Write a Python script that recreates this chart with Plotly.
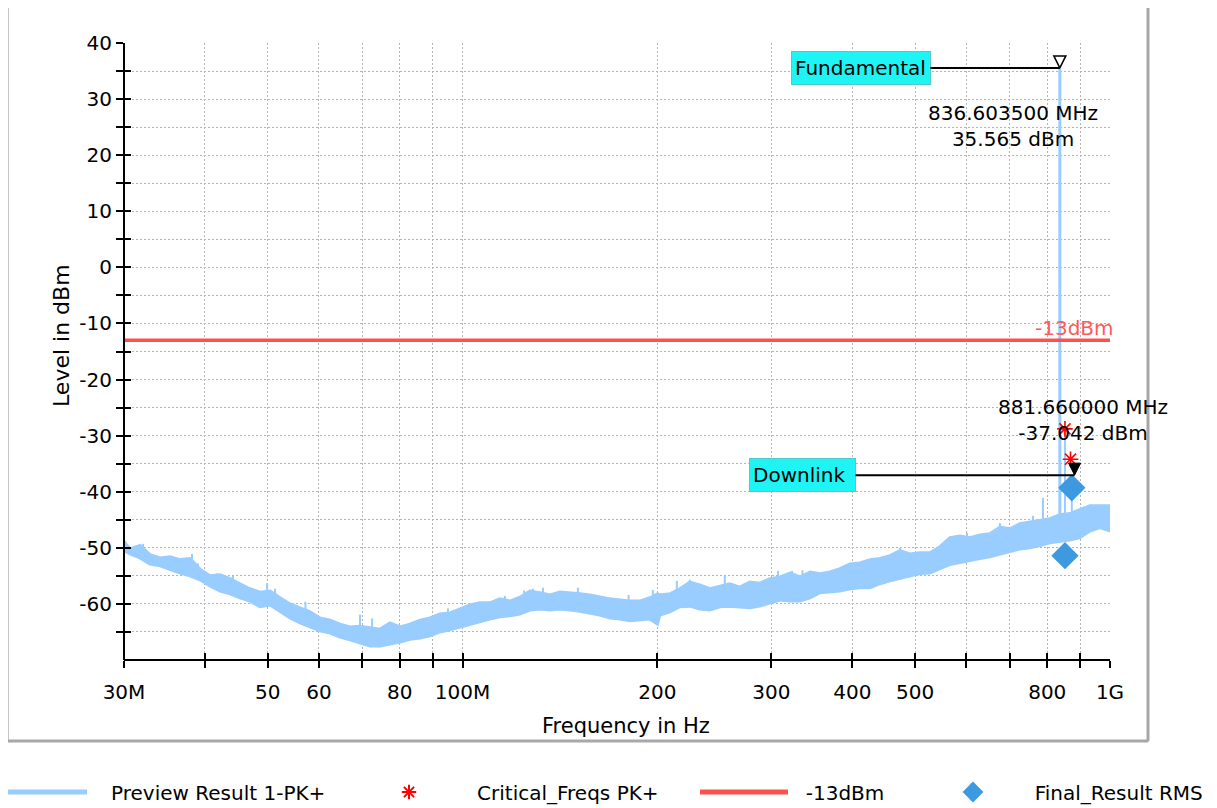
import math
import plotly.graph_objects as go

# ---------------- data ----------------
band_freq_mhz = [
    30.0, 30.65, 31.76, 32.90, 34.10, 35.33, 36.61, 37.94, 39.31, 40.73,
    42.21, 43.74, 45.32, 46.96, 48.66, 50.44, 52.26, 54.15, 56.11, 58.14,
    60.24, 62.42, 64.68, 67.02, 69.45, 71.96, 74.57, 77.26, 80.06, 82.96,
    85.96, 89.07, 92.29, 95.63, 99.09, 102.67, 106.39, 110.24, 114.23, 118.36,
    122.64, 127.08, 131.68, 136.44, 141.38, 146.49, 151.79, 157.28, 162.98, 168.87,
    174.98, 181.31, 187.88, 194.67, 200.0, 201.72, 209.02, 216.58, 224.42, 232.54,
    240.95, 249.67, 258.70, 268.07, 277.77, 287.82, 298.5, 309.3, 320.5, 332.1,
    344.1, 356.6, 369.5, 382.8, 396.7, 411.1, 425.9, 441.3, 457.3, 473.9,
    491.0, 508.8, 527.2, 546.2, 566.0, 586.5, 607.7, 629.7, 652.5, 676.1,
    700.6, 725.9, 752.2, 779.4, 807.6, 836.8, 867.1, 898.5, 931.0, 964.7, 1000.0,
]
band_upper_dbm = [
    -48.9, -50.2, -49.6, -51.2, -51.8, -51.6, -52.1, -51.9, -53.8, -55.0,
    -54.8, -55.5, -56.4, -57.3, -57.9, -57.7, -58.9, -60.0, -60.7, -61.4,
    -62.5, -62.9, -63.6, -64.1, -64.0, -64.3, -64.5, -63.4, -64.1, -63.6,
    -62.9, -62.5, -61.8, -61.6, -60.9, -60.2, -59.8, -59.8, -59.1, -59.5,
    -58.8, -57.7, -58.0, -58.4, -57.9, -58.0, -58.2, -58.4, -58.8, -59.1,
    -59.3, -59.5, -59.5, -58.9, -58.2, -58.4, -58.2, -57.3, -56.1, -56.6,
    -57.3, -56.8, -56.4, -57.0, -56.1, -56.3, -55.5, -55.2, -54.5, -55.2,
    -54.3, -54.6, -54.3, -53.7, -52.9, -52.7, -52.1, -51.9, -51.4, -50.5,
    -51.1, -50.9, -50.9, -49.8, -48.2, -47.9, -48.2, -47.7, -47.5, -46.3,
    -46.6, -45.7, -45.4, -45.2, -44.8, -44.1, -43.9, -43.2, -42.5, -42.5, -42.5,
]
band_lower_dbm = [
    -50.5, -51.1, -51.8, -52.9, -53.2, -53.9, -54.5, -55.0, -55.7, -56.8,
    -57.7, -58.2, -58.9, -59.5, -60.5, -60.2, -61.4, -62.5, -63.4, -64.1,
    -64.8, -65.2, -65.9, -66.4, -66.9, -67.5, -67.5, -67.1, -66.8, -66.3,
    -66.1, -65.7, -65.0, -64.6, -64.1, -63.6, -63.2, -62.7, -62.3, -62.1,
    -61.8, -61.1, -60.9, -61.1, -60.9, -61.1, -61.3, -61.6, -62.0, -62.5,
    -62.7, -63.0, -62.9, -62.7, -63.6, -62.0, -61.4, -60.5, -60.4, -60.9,
    -61.1, -60.5, -60.4, -60.5, -60.7, -60.4, -59.8, -59.3, -59.5, -59.5,
    -58.9, -58.0, -57.9, -57.7, -57.3, -57.1, -57.1, -56.4, -55.9, -55.5,
    -55.0, -54.6, -54.5, -53.7, -53.0, -52.7, -52.3, -51.9, -51.6, -51.1,
    -50.7, -50.2, -50.0, -49.6, -49.1, -48.9, -48.6, -48.2, -47.0, -46.4, -47.0,
]

# narrow peaks rising out of the noise band
spike_freq_mhz = [30.1, 32.10, 38.21, 39.03, 41.76, 44.2, 49.90, 51.34, 57.2, 69.45,
                  72.5, 94.95, 116.28, 124.5, 128.44, 133.09, 150.72, 180.5, 196.76,
                  214.28, 224.4, 254.15, 307.1, 322.8, 335.0, 473.9, 601.3, 676.1,
                  760.3, 787.8, 852.0, 873.0]
spike_base_dbm = [-50.0, -51.0, -53.0, -54.5, -55.5, -56.2, -58.0, -58.5, -61.0, -64.3,
                  -64.4, -61.8, -59.5, -58.6, -58.5, -58.5, -58.5, -59.6, -59.0,
                  -58.0, -56.5, -57.0, -55.4, -55.0, -55.0, -51.2, -48.1, -46.8,
                  -45.6, -45.3, -44.3, -44.0]
spike_peak_dbm = [-48.8, -49.3, -51.1, -52.8, -54.6, -55.0, -56.3, -57.3, -59.6, -61.9,
                  -62.6, -60.8, -58.6, -57.6, -57.3, -57.1, -57.1, -58.4, -57.5,
                  -55.9, -55.7, -55.0, -54.1, -54.1, -54.0, -50.0, -47.3, -45.6,
                  -44.3, -41.1, -28.5, -39.5]

fund_freq_mhz = 836.6035
fund_base_dbm = -44.5
fund_level_dbm = 35.565
downlink_freq_mhz = 881.66
downlink_level_dbm = -37.042

crit_freq_mhz = [852.0, 869.0]
crit_level_dbm = [-28.8, -34.2]
final_freq_mhz = [873.0, 852.0]
final_level_dbm = [-39.3, -51.4]
limit_dbm = -13.0

x_tick_hz = [30e6, 40e6, 50e6, 60e6, 70e6, 80e6, 90e6, 100e6, 200e6, 300e6,
             400e6, 500e6, 600e6, 700e6, 800e6, 900e6, 1e9]
x_tick_text = ["30M", "", "50", "60", "", "80", "", "100M", "200", "300",
               "400", "500", "", "", "800", "", "1G"]
y_tick_vals = [40, 35, 30, 25, 20, 15, 10, 5, 0, -5, -10, -15, -20, -25, -30,
               -35, -40, -45, -50, -55, -60, -65]
y_tick_text = [str(v) if v % 10 == 0 else "" for v in y_tick_vals]
x_range_hz = [30e6, 1e9]
y_range = [-70, 40]

# ---------------- styling ----------------
FONT = "DejaVu Sans"
BLUE = "#99ccff"
RED = "#ff5050"
DIAMOND = "#3d9ae0"
GRID = "#b4b4b4"
NB = "\u00a0"

MHZ = 1e6
fig = go.Figure()

# noise band
bx = [f * MHZ for f in band_freq_mhz] + [f * MHZ for f in reversed(band_freq_mhz)]
by = band_upper_dbm + list(reversed(band_lower_dbm))
fig.add_trace(go.Scatter(x=bx, y=by, mode="lines", fill="toself", fillcolor=BLUE,
                         line=dict(color=BLUE, width=3), showlegend=False, hoverinfo="skip"))

# spikes
sx, sy = [], []
for f, b, p in zip(spike_freq_mhz, spike_base_dbm, spike_peak_dbm):
    sx += [f * MHZ, f * MHZ, None]
    sy += [b, p, None]
fig.add_trace(go.Scatter(x=sx, y=sy, mode="lines", line=dict(color=BLUE, width=2),
                         showlegend=False, hoverinfo="skip"))
fig.add_trace(go.Scatter(x=[fund_freq_mhz * MHZ, fund_freq_mhz * MHZ],
                         y=[fund_base_dbm, fund_level_dbm], mode="lines",
                         line=dict(color=BLUE, width=3), showlegend=False, hoverinfo="skip"))

# legend entry for preview trace
fig.add_trace(go.Scatter(x=[None], y=[None], mode="lines", line=dict(color=BLUE, width=2.5),
                         name=NB * 3 + "Preview Result 1-PK+", legend="legend"))

# limit line
fig.add_trace(go.Scatter(x=x_range_hz, y=[limit_dbm, limit_dbm], mode="lines",
                         line=dict(color=RED, width=3.5), name=NB * 2 + "-13dBm",
                         legend="legend3", hoverinfo="skip"))

# critical freqs
fig.add_trace(go.Scatter(x=[f * MHZ for f in crit_freq_mhz], y=crit_level_dbm, mode="markers",
                         marker=dict(symbol="asterisk-open", size=13, color="#ff0000",
                                     line=dict(color="#ff0000", width=1.6)),
                         name=NB * 3 + "Critical_Freqs PK+", legend="legend2"))

# final result
fig.add_trace(go.Scatter(x=[f * MHZ for f in final_freq_mhz], y=final_level_dbm, mode="markers",
                         marker=dict(symbol="diamond", size=21, color=DIAMOND,
                                     line=dict(width=0)),
                         name=NB * 2 + "Final_Result RMS", legend="legend4"))

# marker triangles
fig.add_trace(go.Scatter(x=[fund_freq_mhz * MHZ], y=[fund_level_dbm], mode="markers",
                         marker=dict(symbol="arrow-down", size=12, color="white",
                                     line=dict(color="black", width=1.5)),
                         showlegend=False, hoverinfo="skip"))
fig.add_trace(go.Scatter(x=[downlink_freq_mhz * MHZ], y=[downlink_level_dbm], mode="markers",
                         marker=dict(symbol="arrow-down", size=12, color="black",
                                     line=dict(color="black", width=1)),
                         showlegend=False, hoverinfo="skip"))

# dummy trace for the overlay axes (inner half of crossing ticks)
fig.add_trace(go.Scatter(x=[x_range_hz[1]], y=[y_range[0]], xaxis="x2", yaxis="y2",
                         mode="markers", marker=dict(opacity=0), showlegend=False,
                         hoverinfo="skip"))

lx = [math.log10(x_range_hz[0]), math.log10(x_range_hz[1])]

axis_common = dict(showline=False, zeroline=False, ticks="outside", ticklen=7,
                   tickwidth=2, tickcolor="black",
                   tickfont=dict(family=FONT, size=20, color="black"),
                   showgrid=True, gridcolor=GRID, gridwidth=1, griddash="1.5px,2.5px")

fig.update_layout(
    width=1217, height=808,
    margin=dict(l=116, r=115, t=35, b=156, autoexpand=False),
    paper_bgcolor="white", plot_bgcolor="white",
    font=dict(family=FONT, size=20, color="black"),
    xaxis=dict(type="log", range=lx, tickmode="array", tickvals=x_tick_hz,
               ticktext=x_tick_text, ticklabelstandoff=7, **axis_common),
    yaxis=dict(range=y_range, tickmode="array", tickvals=y_tick_vals, ticktext=y_tick_text,
               **axis_common),
    xaxis2=dict(type="log", range=lx, overlaying="x", anchor="y2", tickmode="array",
                tickvals=x_tick_hz, ticks="inside", ticklen=7, tickwidth=2, tickcolor="black",
                showticklabels=False, showgrid=False, showline=False, zeroline=False),
    yaxis2=dict(range=y_range, overlaying="y", anchor="x2", tickmode="array",
                tickvals=y_tick_vals, ticks="inside", ticklen=7, tickwidth=2,
                tickcolor="black", showticklabels=False, showgrid=False,
                showline=False, zeroline=False),
    showlegend=True,
)


def paper_x(px):
    # screen px (in the reference) -> paper coordinate of the plot area
    return (px - 124) / 986


def paper_y(py):
    return (660 - py) / 617


leg_common = dict(orientation="h", xref="paper", yref="container", yanchor="middle",
                  xanchor="left", y=1 - 784 / 808, bgcolor="rgba(0,0,0,0)", borderwidth=0,
                  font=dict(family=FONT, size=20, color="black"))
fig.update_layout(
    legend=dict(x=paper_x(1), itemsizing="constant", itemwidth=81, **leg_common),
    legend2=dict(x=paper_x(360), itemsizing="constant", itemwidth=88, **leg_common),
    legend3=dict(x=paper_x(695), itemsizing="constant", itemwidth=88, **leg_common),
    legend4=dict(x=paper_x(924), itemsizing="trace", itemwidth=88, **leg_common),
)

# axis titles
fig.add_annotation(xref="paper", yref="paper", x=paper_x(626), y=paper_y(726),
                   text="Frequency in Hz", showarrow=False, xanchor="center", yanchor="middle",
                   font=dict(family=FONT, size=21, color="black"))
fig.add_annotation(xref="paper", yref="paper", x=paper_x(61), y=paper_y(335),
                   text="Level in dBm", showarrow=False, textangle=-90,
                   xanchor="center", yanchor="middle",
                   font=dict(family=FONT, size=22, color="black"))

# axis lines (left / bottom) and outer frame
fig.add_shape(type="line", xref="paper", yref="paper", x0=0, x1=0, y0=0, y1=1,
              line=dict(color="black", width=2))
fig.add_shape(type="line", xref="paper", yref="paper", x0=0, x1=1, y0=0, y1=0,
              line=dict(color="black", width=2))
fx0, fx1 = paper_x(8), paper_x(1148)
fy0, fy1 = paper_y(741), paper_y(7)
fig.add_shape(type="rect", xref="paper", yref="paper", x0=fx0, x1=fx1, y0=fy0, y1=fy1,
              line=dict(color="#b4b4b4", width=1.5), layer="below")
fig.add_shape(type="line", xref="paper", yref="paper", x0=fx1, x1=fx1, y0=fy0, y1=fy1,
              line=dict(color="#a8a8a8", width=3))
fig.add_shape(type="line", xref="paper", yref="paper", x0=fx0, x1=fx1, y0=fy0, y1=fy0,
              line=dict(color="#a8a8a8", width=3))

fund_lx = math.log10(fund_freq_mhz * MHZ)
dl_lx = math.log10(downlink_freq_mhz * MHZ)
box = dict(bgcolor="#1ef4f4", bordercolor="#55c8c8", borderwidth=1, borderpad=3,
           showarrow=True, arrowhead=0, arrowwidth=2, arrowcolor="black", standoff=0,
           axref="pixel", ayref="pixel", ay=0, height=26, align="left",
           font=dict(family=FONT, size=20, color="black"))
fig.add_annotation(x=fund_lx, y=fund_level_dbm, text="Fundamental", ax=-199, width=132, **box)
fig.add_annotation(x=dl_lx, y=downlink_level_dbm, text="Downlink", ax=-272, width=99, **box)

fig.add_annotation(x=fund_lx, y=fund_level_dbm, showarrow=False, xshift=-47, yshift=-57.7,
                   text=f"{fund_freq_mhz:.6f} MHz<br>{fund_level_dbm:.3f} dBm",
                   font=dict(family=FONT, size=20, color="black"), align="center")
fig.add_annotation(x=dl_lx, y=downlink_level_dbm, showarrow=False, xshift=8.5, yshift=55,
                   text=f"{downlink_freq_mhz:.6f} MHz<br>{downlink_level_dbm:.3f} dBm",
                   font=dict(family=FONT, size=20, color="black"), align="center")
fig.add_annotation(x=lx[1], y=limit_dbm, showarrow=False, xanchor="right", xshift=6, yshift=12,
                   text="-13dBm", font=dict(family=FONT, size=20, color="#ff5a5a"))

fig.write_html("out.html")
